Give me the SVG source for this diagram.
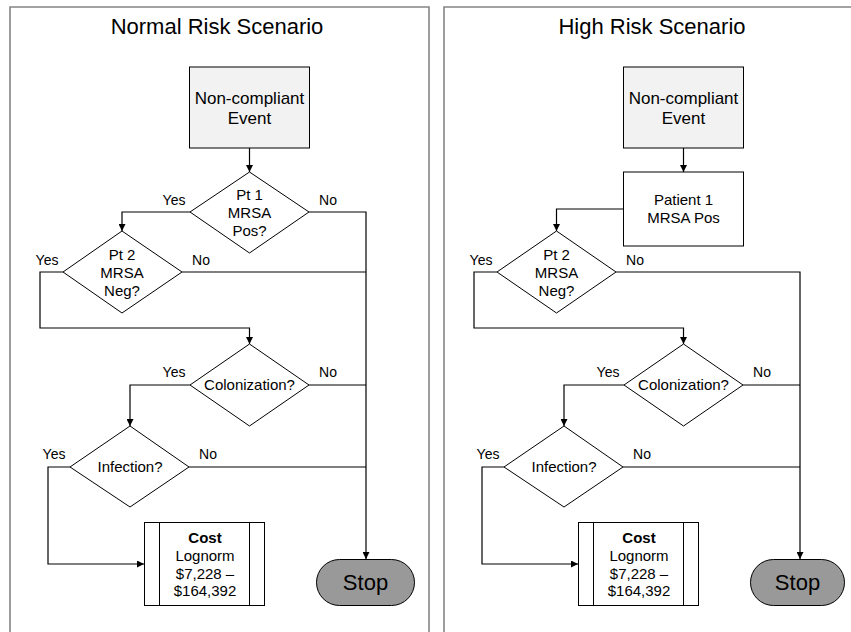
<svg xmlns="http://www.w3.org/2000/svg" width="851" height="632" viewBox="0 0 851 632">
<style>
.frame{fill:none;stroke:#858585;stroke-width:1.6}
.shape{stroke:#000;stroke-width:1}
.ln{fill:none;stroke:#000;stroke-width:1.2}
.arr{fill:none;stroke:#000;stroke-width:1.2;marker-end:url(#ah)}
text{font-family:"Liberation Sans",Arial,sans-serif;fill:#000}
.t{font-size:15px;text-anchor:middle}
.tb{font-size:17px;text-anchor:middle}
.lbl{font-size:14px;text-anchor:middle}
.title{font-size:22px;text-anchor:middle}
.stop{font-size:22px;text-anchor:middle}
</style>
<defs>
<marker id="ah" viewBox="0 0 10 10" refX="10" refY="5" markerWidth="7" markerHeight="7" markerUnits="userSpaceOnUse" orient="auto">
<path d="M0,0 L10,5 L0,10 z" fill="#000"/>
</marker>
</defs>
<rect width="851" height="632" fill="#fff"/>
<!-- Left panel -->
<g id="panel-normal">
<path class="frame" d="M10,640 V7 H429 V640"/>
<text class="title" x="217" y="34">Normal Risk Scenario</text>
</g>
<g id="connectors-normal">
<path class="arr" d="M249.5,148 V172"/>
<path class="arr" d="M190,212 H122 V231"/>
<path class="arr" d="M309,212 H366 V559"/>
<path class="ln" d="M182,272 H366"/>
<path class="arr" d="M63,272 H40 V328 H249.5 V344"/>
<path class="ln" d="M309,385 H366"/>
<path class="arr" d="M190,385 H130 V426"/>
<path class="ln" d="M189,467 H366"/>
<path class="arr" d="M70,467 H48 V564 H144"/>
<text class="lbl" x="174" y="205">Yes</text>
<text class="lbl" x="328" y="205">No</text>
<text class="lbl" x="47" y="265">Yes</text>
<text class="lbl" x="201" y="265">No</text>
<text class="lbl" x="174" y="377">Yes</text>
<text class="lbl" x="328" y="377">No</text>
<text class="lbl" x="54" y="459">Yes</text>
<text class="lbl" x="208" y="459">No</text>
</g>
<g id="n-event">
<rect class="shape" x="189.5" y="67" width="120" height="81" fill="#f2f2f2"/>
<text class="tb" x="249.5" y="104">Non-compliant</text>
<text class="tb" x="249.5" y="124">Event</text>
</g>
<g id="n-pt1">
<polygon class="shape" points="249.5,172 309,212 249.5,253 190,212" fill="#fff"/>
<text class="t" x="249.5" y="200">Pt 1</text>
<text class="t" x="249.5" y="218">MRSA</text>
<text class="t" x="249.5" y="236">Pos?</text>
</g>
<g id="n-pt2">
<polygon class="shape" points="122,231 182,272 122,313 63,272" fill="#fff"/>
<text class="t" x="122" y="260">Pt 2</text>
<text class="t" x="122" y="278">MRSA</text>
<text class="t" x="122" y="296">Neg?</text>
</g>
<g id="n-col">
<polygon class="shape" points="249.5,344 309,385 249.5,426 190,385" fill="#fff"/>
<text class="t" x="249.5" y="390">Colonization?</text>
</g>
<g id="n-inf">
<polygon class="shape" points="130,426 189,467 130,507 70,467" fill="#fff"/>
<text class="t" x="130" y="472">Infection?</text>
</g>
<g id="n-cost">
<rect class="shape" x="144.5" y="522.5" width="120" height="83" fill="#fff"/>
<path class="shape" d="M159.5,522.5 V605.5 M249.5,522.5 V605.5"/>
<text class="t" x="205" y="543" font-weight="bold">Cost</text>
<text class="t" x="205" y="561">Lognorm</text>
<text class="t" x="205" y="579">$7,228 –</text>
<text class="t" x="205" y="596">$164,392</text>
</g>
<g id="n-stop">
<rect class="shape" x="316.5" y="559.5" width="98" height="46" rx="23" ry="23" fill="#999"/>
<text class="stop" x="365.5" y="590">Stop</text>
</g>
<!-- Right panel -->
<g id="panel-high">
<path class="frame" d="M444,640 V7 H860"/>
<text class="title" x="652" y="34">High Risk Scenario</text>
</g>
<g id="connectors-high">
<path class="arr" d="M683.5,148 V172"/>
<path class="arr" d="M624,209 H556.5 V231"/>
<path class="arr" d="M616,272 H800 V559"/>
<path class="arr" d="M497,272 H474 V328 H683.5 V344"/>
<path class="ln" d="M743,385 H800"/>
<path class="arr" d="M624,385 H564 V426"/>
<path class="ln" d="M623,467 H800"/>
<path class="arr" d="M504,467 H482 V564 H578"/>
<text class="lbl" x="481" y="265">Yes</text>
<text class="lbl" x="635" y="265">No</text>
<text class="lbl" x="608" y="377">Yes</text>
<text class="lbl" x="762" y="377">No</text>
<text class="lbl" x="488" y="459">Yes</text>
<text class="lbl" x="642" y="459">No</text>
</g>
<g id="h-event">
<rect class="shape" x="623.5" y="67" width="120" height="81" fill="#f2f2f2"/>
<text class="tb" x="683.5" y="104">Non-compliant</text>
<text class="tb" x="683.5" y="124">Event</text>
</g>
<g id="h-pt1">
<rect class="shape" x="623.5" y="172" width="120" height="74" fill="#fff"/>
<text class="t" x="683.5" y="205">Patient 1</text>
<text class="t" x="683.5" y="223">MRSA Pos</text>
</g>
<g id="h-pt2">
<polygon class="shape" points="556.5,231 616,272 556.5,313 497,272" fill="#fff"/>
<text class="t" x="556.5" y="260">Pt 2</text>
<text class="t" x="556.5" y="278">MRSA</text>
<text class="t" x="556.5" y="296">Neg?</text>
</g>
<g id="h-col">
<polygon class="shape" points="683.5,344 743,385 683.5,426 624,385" fill="#fff"/>
<text class="t" x="683.5" y="390">Colonization?</text>
</g>
<g id="h-inf">
<polygon class="shape" points="564,426 623,467 564,507 504,467" fill="#fff"/>
<text class="t" x="564" y="472">Infection?</text>
</g>
<g id="h-cost">
<rect class="shape" x="578.5" y="522.5" width="120" height="83" fill="#fff"/>
<path class="shape" d="M593.5,522.5 V605.5 M683.5,522.5 V605.5"/>
<text class="t" x="639" y="543" font-weight="bold">Cost</text>
<text class="t" x="639" y="561">Lognorm</text>
<text class="t" x="639" y="579">$7,228 –</text>
<text class="t" x="639" y="596">$164,392</text>
</g>
<g id="h-stop">
<rect class="shape" x="750.5" y="559.5" width="94" height="46" rx="23" ry="23" fill="#999"/>
<text class="stop" x="797.5" y="590">Stop</text>
</g>
</svg>
